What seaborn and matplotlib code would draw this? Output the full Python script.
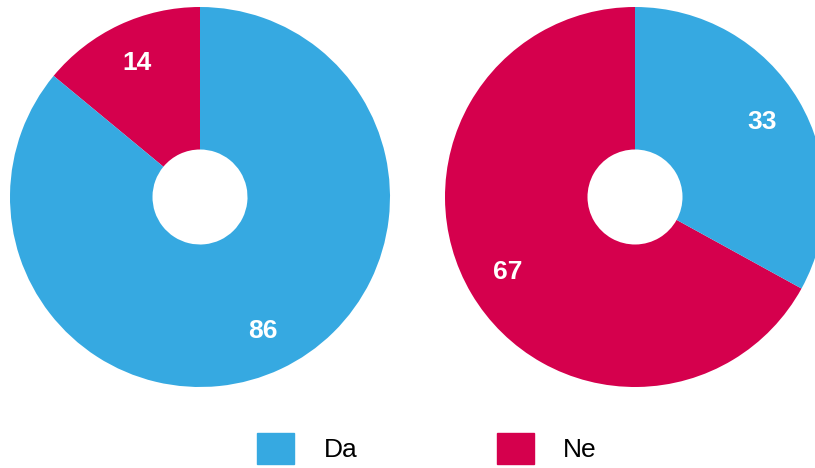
import matplotlib
matplotlib.use("Agg")
import matplotlib.pyplot as plt
import seaborn as sns
from matplotlib.patches import Patch

# Survey answers, two groups
categories = ["Ne", "Da"]
left_values = [14, 86]
right_values = [67, 33]
colors = sns.color_palette(["#D5004D", "#36A9E1"])

sns.set_theme(style="white")
plt.rcParams["font.family"] = ["Liberation Sans", "DejaVu Sans"]
plt.rcParams["text.color"] = "black"

fig = plt.figure(figsize=(8.15, 4.68), dpi=100)
W, H = 815, 468

def donut(values, cx, cy, r=190):
    ax = fig.add_axes([(cx - r) / W, (H - cy - r) / H, 2 * r / W, 2 * r / H])
    wedges, texts = ax.pie(
        values,
        colors=colors,
        startangle=90,
        counterclock=True,
        labels=[str(v) for v in values],
        labeldistance=0.78,
        radius=1.0,
        wedgeprops=dict(width=0.75, linewidth=0),
        textprops=dict(color="white", fontsize=19, fontweight="bold"),
    )
    for t in texts:
        t.set_horizontalalignment("center")
        t.set_verticalalignment("center")
    ax.set_xlim(-1, 1)
    ax.set_ylim(-1, 1)
    ax.set_aspect("equal")
    ax.axis("off")
    return ax

donut(left_values, 200, 197)
donut(right_values, 635, 197)

handles = [Patch(color=colors[1], label=categories[1]),
           Patch(color=colors[0], label=categories[0])]
leg = fig.legend(handles=handles, loc="center", ncol=2, frameon=False,
                 bbox_to_anchor=(0.524, 0.042), fontsize=19,
                 handlelength=1.4, handleheight=1.4, handletextpad=1.1,
                 columnspacing=5.3, borderpad=0)
for t in leg.get_texts():
    t.set_color("black")

fig.savefig("out.png", dpi=100)
